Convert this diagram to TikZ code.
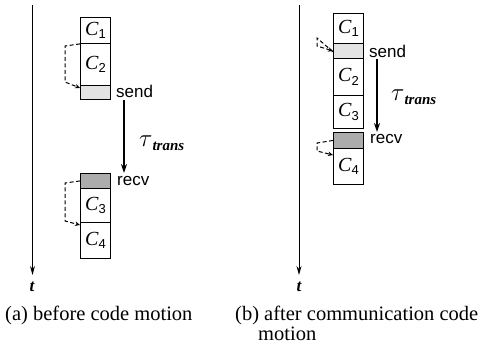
\documentclass[tikz,border=0pt]{standalone}
\usepackage{fontspec}
\setmainfont{Liberation Serif}
\newfontfamily\hv{Liberation Sans}
\usetikzlibrary{arrows.meta,calc}
\newcommand\cblk[1]{{\fontsize{20}{20}\selectfont\itshape C}\raisebox{-3.5pt}{\hv\fontsize{13}{13}\selectfont #1}}
\newcommand\taut{{\fontsize{24}{24}\selectfont$\tau$}\raisebox{-4pt}{\fontsize{15}{15}\selectfont\itshape\bfseries trans}}
\begin{document}
\begin{tikzpicture}[x=1pt,y=-1pt,
  blk/.style={draw, line width=0.9pt, minimum width=30pt, inner sep=0pt, anchor=north west},
  sendbox/.style={blk, fill=gray!22},
  recvbox/.style={blk, fill=gray!65},
  axis/.style={line width=1pt, -{Stealth[length=9pt,width=5pt]}},
  trans/.style={line width=1.3pt, -{Stealth[length=9pt,width=6pt]}},
  dsh/.style={line width=1pt, dash pattern=on 4pt off 2.5pt, -{Stealth[length=5pt,width=4.5pt]}},
  lab/.style={anchor=west, inner sep=0pt, font=\hv\fontsize{17}{17}\selectfont},
  tlab/.style={inner sep=0pt, font=\fontsize{17}{17}\selectfont\bfseries\itshape},
  taulab/.style={inner sep=0pt, anchor=west},
  capt/.style={inner sep=0pt, anchor=base west, align=left, font=\fontsize{20.5}{19.5}\selectfont}]
\useasboundingbox (0,0) rectangle (485,355);
% ---------- (a) ----------
\coordinate (ta0) at (32.5,5);
\coordinate (ta1) at (32.5,275);
\draw[axis] (ta0) -- (ta1);
\node[tlab] (tA) at (32,287) {t};
\node[blk, minimum height=26pt] (a1) at (80,17) {\cblk{1}};
\node[blk, minimum height=42pt] (a2) at (80,43) {\cblk{2}};
\node[sendbox, minimum height=14pt] (as) at (80,85) {};
\node[recvbox, minimum height=15pt] (ar) at (80,173) {};
\node[blk, minimum height=34pt] (a3) at (80,188) {\cblk{3}};
\node[blk, minimum height=36pt] (a4) at (80,222) {\cblk{4}};
\node[lab] (asl) at (116,91) {send};
\node[lab] (arl) at (117,181) {recv};
\coordinate (tra0) at (124,100);
\coordinate (tra1) at (124,173);
\draw[trans] (tra0) -- (tra1);
\node[taulab] (tauA) at (139,143) {\taut};
\draw[dsh] (a1.south west) -- (65,46) -- (65,82) -- ($(as.north west)!0.2!(as.south west)$);
\draw[dsh] (ar.west) -- (65,183) -- (65,221) -- ($(a4.north west)+(0,3)$);
% ---------- (b) ----------
\coordinate (tb0) at (299,5);
\coordinate (tb1) at (299,275);
\draw[axis] (tb0) -- (tb1);
\node[tlab] (tB) at (299,287) {t};
\node[blk, minimum height=30pt] (b1) at (333,13) {\cblk{1}};
\node[sendbox, minimum height=15pt] (bs) at (333,43) {};
\node[blk, minimum height=37pt] (b2) at (333,58) {\cblk{2}};
\node[blk, minimum height=33pt] (b3) at (333,95) {\cblk{3}};
\node[recvbox, minimum height=16pt] (br) at (333,132) {};
\node[blk, minimum height=36pt] (b4) at (333,148) {\cblk{4}};
\node[lab] (bsl) at (369,51) {send};
\node[lab] (brl) at (370,139) {recv};
\coordinate (trb0) at (377,59);
\coordinate (trb1) at (377,132);
\draw[trans] (trb0) -- (trb1);
\node[taulab] (tauB) at (391,97) {\taut};
\draw[dsh] ($(b1.south west)+(0,8)$) -- (317,38) -- (317,46) -- (bs.west);
\draw[dsh] (br.west) -- (317,143) -- (317,151) -- ($(b4.north west)+(0,7)$);
% ---------- captions ----------
\node[capt] (capA) at (5,321) {(a) before code motion};
\node[capt] (capB) at (235,340.5) {(b) after communication code\\\hspace*{23pt}motion};
\end{tikzpicture}
\end{document}
